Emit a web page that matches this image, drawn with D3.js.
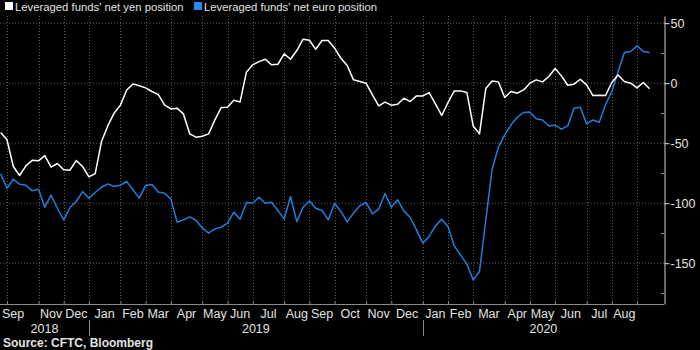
<!DOCTYPE html>
<html>
<head>
<meta charset="utf-8">
<script src="https://cdn.jsdelivr.net/npm/d3@7"></script>
<style>
  html, body { margin: 0; padding: 0; background: #000; }
  svg { display: block; }
  text { font-family: "Liberation Sans", Arial, sans-serif; }
</style>
</head>
<body>
<svg id="chart" width="700" height="350"></svg>
<script>
// ---- data (weekly CFTC readings, first week = 2018-09-25) ----
const firstWeek = "2018-09-25";
const seriesNames = ["Leveraged funds' net yen position", "Leveraged funds' net euro position"];
const yenValues = [-41.1,-47.2,-69.4,-76.9,-68.9,-64.2,-64.7,-60.3,-70,-66.9,-72.2,-72.5,-64.4,-69.4,-78,-75.3,
  -48.6,-35.6,-25,-18.3,-5.6,-0.6,
  -2.2,-3.9,-6.9,-9.4,-18,-21.4,-20.8,-25.6,-42.2,-45,-44.2,-42.2,-30.6,-20.3,-20,-14.2,-15.6,9.2,15.3,18,20,
  15.3,15.8,24.4,20,27.2,36.7,35.8,28.3,35.6,35.6,29.2,20.8,14.7,2.8,1.4,0,-9.7,-18.9,-15.8,-18.3,
  -17.5,-12.5,-15.3,-10.6,-10.6,-7.8,-17.2,-26.9,-16.1,-6.4,-6.4,-7.8,-35.6,-42.2,-4.4,1.9,1.1,-11.9,-6.9,-8.3,-5.6,
  0,2.8,1.1,5.6,12.2,6.1,-1.7,-0.8,3.3,-1.4,-10.3,-10,-10.3,0.6,6.9,1.4,0,-3.9,0.6,-4.7];
const euroValues = [-75.6,-87.5,-80,-84.2,-85,-89.7,-88.3,-103.3,-93.3,-104.2,
  -113.9,-103.6,-98.6,-90.3,-95.8,-91.1,-86.7,-83.9,-86.1,-85,
  -81.9,-88.9,-95.8,-85.3,-84.4,-90.6,-91.7,-96.4,-115.8,-113.9,
  -111.4,-114.2,-120.6,-125,-121.4,-120,-116.7,-107.5,-113.3,
  -99.4,-100,-95,-100,-99.2,-106.1,-113.3,-94.4,-115.3,-103.3,
  -98.1,-104.2,-106.1,-113.9,-100.3,-106.9,-115.6,-108.3,-102.2,-99.4,
  -108.9,-105,-91.9,-103.3,
  -97.2,-106.4,-111.9,-122.2,-133.3,-127.8,-118.9,-113.3,-119.4,-135.6,
  -143.3,-150.8,-163.9,-156.9,-114,
  -71.7,-53.3,-43,-34.7,-28.3,-24.4,-23.9,-29.7,-30.6,-35.6,
  -35,-38.3,-35.6,-20.8,-20,-33.9,-30.6,-32.5,-18,-6.9,
  9.7,25.6,26.4,31.1,26.4,25.6];
const yTickValues = [50, 0, -50, -100, -150];
const yMinorTickValues = [25, -25, -75, -125, -175];
const hiddenMonthLabels = ["2018-10", "2020-09"];
const sourceText = "Source: CFTC, Bloomberg";

// ---- layout ----
const W = 700, H = 350;
const plot = { left: 0, right: 664, top: 16, bottom: 304 };
const colors = { yen: "#ffffff", euro: "#1f7fdc", euroLegend: "#2a88f2", grid: "#5a5a5a", axis: "#8a8a8a", text: "#e2e2e2" };

const parse = d3.timeParse("%Y-%m-%d");
const start = parse(firstWeek);
const dates = yenValues.map((_, i) => d3.timeWeek.offset(start, i));
const n = dates.length;

const svg = d3.select("#chart");
svg.append("rect").attr("width", W).attr("height", H).attr("fill", "#000");

const x = d3.scaleLinear().domain([0, n - 1]).range([0.7, 649.6]);
const y = d3.scaleLinear().domain([-184, 56]).range([plot.bottom, plot.top]);

// month ticks: first week of each month
const monthKey = d3.timeFormat("%Y-%m");
const monthTicks = [];
dates.forEach((d, i) => { if (i > 0 && monthKey(d) !== monthKey(dates[i - 1])) monthTicks.push(i); });

// gridlines
const grid = svg.append("g");
grid.selectAll("line.h").data(yTickValues).join("line")
  .attr("x1", plot.left).attr("x2", plot.right)
  .attr("y1", d => y(d)).attr("y2", d => y(d))
  .attr("stroke", colors.grid).attr("stroke-width", 1).attr("stroke-dasharray", "1,2");
grid.selectAll("line.v").data(monthTicks).join("line")
  .attr("x1", d => Math.round(x(d)) + 0.5).attr("x2", d => Math.round(x(d)) + 0.5)
  .attr("y1", plot.top).attr("y2", plot.bottom)
  .attr("stroke", colors.grid).attr("stroke-width", 1).attr("stroke-dasharray", "1,2");

// x axis
const xAxis = d3.axisBottom(x).tickValues(monthTicks).tickSize(-3).tickSizeOuter(0).tickFormat("");
const gx = svg.append("g").attr("transform", `translate(0,${plot.bottom + 0.5})`).call(xAxis);
gx.select(".domain").attr("d", `M${plot.left},0H${plot.right}`).attr("stroke", colors.axis);
gx.selectAll(".tick line").attr("stroke", colors.axis);

// month labels, centred in each month's interval
const bounds = [0].concat(monthTicks).concat([n - 1]);
const fmtMon = d3.timeFormat("%b");
const monthLabels = [];
for (let k = 0; k < bounds.length - 1; k++) {
  const i0 = bounds[k], i1 = bounds[k + 1];
  const key = monthKey(dates[i0]);
  if (hiddenMonthLabels.includes(key)) continue;
  monthLabels.push({ text: fmtMon(dates[i0]), cx: (x(i0) + x(i1)) / 2 });
}
svg.append("g").selectAll("text").data(monthLabels).join("text")
  .attr("x", d => Math.max(d.cx, 13))
  .attr("y", 318)
  .attr("text-anchor", "middle")
  .attr("fill", colors.text).attr("font-size", 12.5)
  .text(d => d.text);

// year labels and separators
const yearStarts = monthTicks.filter(i => dates[i].getMonth() === 0);
const yearBounds = [plot.left].concat(yearStarts.map(i => x(i))).concat([plot.right]);
const yearLabels = [dates[0].getFullYear()].concat(yearStarts.map(i => dates[i].getFullYear()));
svg.append("g").selectAll("text").data(yearLabels).join("text")
  .attr("x", (d, k) => (yearBounds[k] + yearBounds[k + 1]) / 2)
  .attr("y", 333)
  .attr("text-anchor", "middle")
  .attr("fill", colors.text).attr("font-size", 12.5)
  .text(d => d);
svg.append("g").selectAll("line").data(yearStarts).join("line")
  .attr("x1", d => Math.round(x(d)) + 0.5).attr("x2", d => Math.round(x(d)) + 0.5)
  .attr("y1", 320).attr("y2", 336)
  .attr("stroke", colors.axis).attr("stroke-width", 1);

// y axis on the right
const yAxis = d3.axisRight(y).tickValues(yTickValues).tickSize(5).tickSizeOuter(0).tickPadding(1)
  .tickFormat(d => String(d));
const gy = svg.append("g").attr("transform", `translate(${plot.right + 0.5},0)`).call(yAxis);
gy.select(".domain").attr("stroke", colors.axis).attr("stroke-width", 1.5);
gy.selectAll(".tick line").attr("stroke", colors.text);
gy.selectAll(".tick text").attr("fill", colors.text).attr("font-size", 12.5)
  .attr("font-family", "'Liberation Sans', Arial, sans-serif");
svg.append("g").selectAll("line").data(yMinorTickValues).join("line")
  .attr("x1", plot.right - 3).attr("x2", plot.right)
  .attr("y1", d => Math.round(y(d)) + 0.5).attr("y2", d => Math.round(y(d)) + 0.5)
  .attr("stroke", colors.axis);

// lines
const line = d3.line().x((d, i) => x(i)).y(d => y(d)).curve(d3.curveLinear);
svg.append("path").datum(euroValues).attr("d", line)
  .attr("fill", "none").attr("stroke", colors.euro).attr("stroke-width", 1.5).attr("stroke-linejoin", "round");
svg.append("path").datum(yenValues).attr("d", line)
  .attr("fill", "none").attr("stroke", colors.yen).attr("stroke-width", 1.5).attr("stroke-linejoin", "round");

// legend
const legend = [
  { name: seriesNames[0], color: colors.yen, x: 5 },
  { name: seriesNames[1], color: colors.euroLegend, x: 194 }
];
const lg = svg.append("g").selectAll("g").data(legend).join("g")
  .attr("transform", d => `translate(${d.x},0)`);
lg.append("rect").attr("x", 0).attr("y", 2).attr("width", 8).attr("height", 8).attr("fill", d => d.color);
lg.append("text").attr("x", 10).attr("y", 10.5).attr("fill", colors.text).attr("font-size", 11.3)
  .text(d => d.name);

// source
svg.append("text").attr("x", 3).attr("y", 347).attr("fill", colors.text)
  .attr("font-size", 12).attr("font-weight", "bold").text(sourceText);
</script>
</body>
</html>
